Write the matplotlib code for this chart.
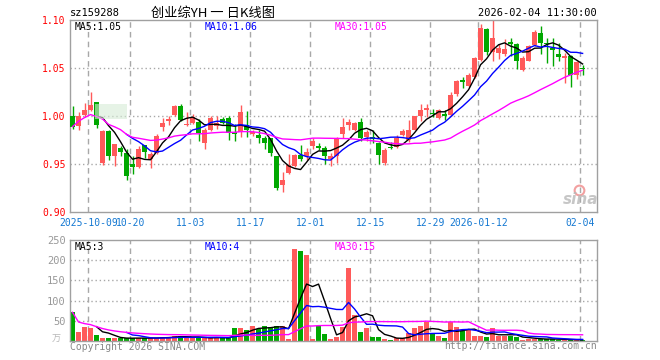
import numpy as np
import pandas as pd
import matplotlib.pyplot as plt
from matplotlib.patches import Rectangle

# daily candles, 2025-09-26 .. 2026-02-04 (86 sessions)
opens = [1.000, 0.990, 1.001, 1.006, 1.015, 0.951, 0.984, 0.958, 0.967, 0.961,
         0.950, 0.947, 0.970, 0.955, 0.961, 0.989, 0.995, 1.001, 1.010, 0.991,
         0.993, 0.994, 0.972, 0.985, 0.990, 0.997, 0.998, 0.983, 0.983, 0.991,
         0.981, 0.980, 0.977, 0.977, 0.958, 0.928, 0.941, 0.948, 0.959, 0.958,
         0.969, 0.969, 0.967, 0.955, 0.958, 0.981, 0.991, 0.985, 0.994, 0.978,
         0.978, 0.972, 0.951, 0.968, 0.968, 0.980, 0.975, 0.985, 1.000, 1.006,
         1.003, 0.998, 1.002, 1.001, 1.023, 1.037, 1.031, 1.041, 1.058, 1.091,
         1.067, 1.066, 1.065, 1.077, 1.075, 1.048, 1.057, 1.074, 1.086, 1.076,
         1.071, 1.065, 1.060, 1.062, 1.043, 1.050]
closes = [0.989, 1.000, 1.006, 1.011, 0.991, 0.984, 0.958, 0.971, 0.962, 0.937,
          0.947, 0.966, 0.962, 0.960, 0.979, 0.993, 0.997, 1.010, 0.996, 0.992,
          0.999, 0.982, 0.985, 0.998, 0.993, 0.993, 0.982, 0.981, 1.004, 0.985,
          0.983, 0.977, 0.972, 0.961, 0.925, 0.933, 0.949, 0.959, 0.955, 0.963,
          0.974, 0.967, 0.958, 0.958, 0.976, 0.989, 0.994, 0.993, 0.977, 0.983,
          0.976, 0.959, 0.965, 0.967, 0.977, 0.984, 0.985, 1.000, 1.006, 1.008,
          1.002, 1.006, 1.000, 1.022, 1.036, 1.036, 1.043, 1.060, 1.092, 1.067,
          1.081, 1.071, 1.070, 1.075, 1.057, 1.060, 1.073, 1.088, 1.076, 1.075,
          1.069, 1.061, 1.062, 1.043, 1.056, 1.049]
highs = [1.010, 1.004, 1.014, 1.025, 1.015, 0.985, 0.985, 0.971, 0.969, 0.966,
         0.958, 0.969, 0.970, 0.963, 0.981, 0.998, 1.000, 1.011, 1.013, 1.004,
         1.002, 0.997, 0.987, 1.000, 1.000, 0.999, 1.000, 0.992, 1.011, 1.005,
         0.985, 0.985, 0.979, 0.977, 0.958, 0.942, 0.960, 0.960, 0.970, 0.967,
         0.977, 0.972, 0.969, 0.961, 0.978, 0.998, 0.997, 0.994, 0.998, 0.985,
         0.985, 0.973, 0.967, 0.973, 0.980, 0.986, 0.996, 1.000, 1.013, 1.013,
         1.007, 1.007, 1.006, 1.025, 1.037, 1.041, 1.045, 1.061, 1.096, 1.092,
         1.100, 1.075, 1.080, 1.081, 1.076, 1.063, 1.074, 1.090, 1.094, 1.081,
         1.081, 1.076, 1.066, 1.064, 1.057, 1.053]
lows = [0.986, 0.985, 0.999, 1.005, 0.988, 0.949, 0.954, 0.948, 0.958, 0.933,
        0.940, 0.946, 0.956, 0.946, 0.960, 0.984, 0.991, 1.000, 0.995, 0.990,
        0.992, 0.974, 0.966, 0.984, 0.986, 0.992, 0.975, 0.974, 0.978, 0.978,
        0.979, 0.972, 0.966, 0.958, 0.923, 0.921, 0.940, 0.947, 0.953, 0.954,
        0.966, 0.965, 0.950, 0.948, 0.951, 0.977, 0.985, 0.984, 0.974, 0.974,
        0.972, 0.950, 0.949, 0.966, 0.967, 0.979, 0.973, 0.985, 0.995, 0.999,
        0.999, 0.997, 0.996, 1.000, 1.021, 1.029, 1.030, 1.040, 1.057, 1.064,
        1.057, 1.059, 1.063, 1.062, 1.049, 1.047, 1.057, 1.073, 1.065, 1.055,
        1.052, 1.057, 1.034, 1.030, 1.039, 1.043]
# volume in 万
volumes = [71, 23, 35, 33, 15, 8, 7, 7, 7, 7,
           7, 8, 7, 7, 8, 10, 10, 13, 13, 7,
           7, 10, 7, 7, 10, 7, 7, 32, 31, 27,
           37, 29, 37, 35, 37, 37, 6, 227, 222, 213,
           6, 36, 18, 6, 10, 35, 181, 65, 23, 33,
           10, 10, 6, 3, 7, 7, 21, 33, 37, 46,
           17, 12, 8, 48, 35, 25, 27, 12, 12, 10,
           31, 12, 12, 12, 10, 3, 5, 5, 5, 6,
           4, 3, 3, 2, 4, 2]

date_idx = [3, 10, 20, 30, 40, 50, 60, 68, 85]
date_labels = ["2025-10-09", "10-20", "11-03", "11-17", "12-01",
               "12-15", "12-29", "2026-01-12", "02-04"]
price_ticks = [0.90, 0.95, 1.00, 1.05, 1.10]
vol_ticks = [50, 100, 150, 200, 250]
price_ma_text = ["MA5:1.05", "MA10:1.06", "MA30:1.05"]
vol_ma_text = ["MA5:3", "MA10:4", "MA30:15"]

UP = "#ff5a5a"
DOWN = "#00a800"
MA_COLORS = ["black", "#0000ff", "#ff00ff"]
GRID = "#a8a8a8"
MONO = "DejaVu Sans Mono"
CJK = ["Noto Sans CJK SC", "DejaVu Sans Mono"]

df = pd.DataFrame({"open": opens, "close": closes, "high": highs,
                   "low": lows, "vol": volumes})
x = np.arange(len(df))
colors = np.where(df["close"] >= df["open"], UP, DOWN)

# moving averages (MA30 starts as a running mean, like the source)
for col in ["close", "vol"]:
    df[col + "_ma5"] = df[col].rolling(5).mean()
    df[col + "_ma10"] = df[col].rolling(10).mean()
    df[col + "_ma30"] = df[col].rolling(30, min_periods=1).mean()

W, H = 660, 360


def box(l, t, r, b):
    return [l / W, 1 - b / H, (r - l) / W, (b - t) / H]


fig = plt.figure(figsize=(6.6, 3.6), dpi=100)
ax = fig.add_axes(box(70, 20, 597, 212))
axv = fig.add_axes(box(70, 240, 597, 341))

grid_x = [i - 0.35 for i in date_idx]

for a in (ax, axv):
    a.set_xlim(-0.42, 87.4)
    for s in a.spines.values():
        s.set_color("#a0a0a0")
        s.set_linewidth(1)
    for gx in grid_x:
        a.axvline(gx, color=GRID, lw=1, ls=(0, (4, 3)), zorder=0)
    a.tick_params(length=0)

# -----------------------------
# price panel
# -----------------------------
ax.set_ylim(0.90, 1.10)
for yv in [0.95, 1.00, 1.05]:
    ax.axhline(yv, color=GRID, lw=1, ls=(0, (1, 2)), zorder=0)

ax.vlines(x, df["low"], df["high"], colors=colors, lw=1, zorder=2)
body = (df["close"] - df["open"]).abs()
min_h = 0.0012
bottom = np.minimum(df["open"], df["close"]) - np.clip(min_h - body, 0, None) / 2
ax.bar(x, np.maximum(body, min_h), bottom=bottom, width=0.8,
       color=colors, lw=0, zorder=3)

for name, c in zip(["_ma5", "_ma10", "_ma30"], MA_COLORS):
    ax.plot(x, df["close" + name], color=c, lw=1, zorder=4)

# faded blob over early candles
ax.add_patch(Rectangle((3.8, 0.997), 5.3, 0.016, color="#d6ecd6",
                       alpha=0.6, lw=0, zorder=5))

ax.set_yticks(price_ticks)
ax.set_yticklabels([f"{v:.2f}" for v in price_ticks], color="red",
                   family=MONO, fontsize=7)
ax.set_xticks(grid_x)
ax.set_xticklabels(date_labels, color="#1478d2", family=MONO, fontsize=7)
ax.tick_params(axis="x", pad=4)
ax.tick_params(axis="y", pad=3)

# -----------------------------
# volume panel
# -----------------------------
axv.set_ylim(0, 250)
for yv in [50, 100, 150, 200]:
    axv.axhline(yv, color=GRID, lw=1, ls=(0, (1, 2)), zorder=0)
axv.bar(x, df["vol"], width=0.8, color=colors, lw=0, zorder=2)
for name, c in zip(["_ma5", "_ma10", "_ma30"], MA_COLORS):
    axv.plot(x, df["vol" + name], color=c, lw=1, zorder=3)
axv.set_yticks(vol_ticks)
axv.set_yticklabels([str(v) for v in vol_ticks], color="#999999",
                    family=MONO, fontsize=7.5)
axv.set_xticks([])
axv.tick_params(axis="y", pad=3)

# -----------------------------
# texts
# -----------------------------
def ftext(px, py, s, **kw):
    fig.text(px / W, 1 - py / H, s, va="center", **kw)


ftext(70, 13.5, "sz159288", family=MONO, fontsize=7.5)
ftext(213, 13.5, "创业综YH 一 日K线图", family=CJK, fontsize=9.5, ha="center")
ftext(597, 12.5, "2026-02-04 11:30:00", family=MONO, fontsize=7.5, ha="right")

for px, s, c in zip([75, 205, 335], price_ma_text, MA_COLORS):
    ftext(px, 26.5, s, family=MONO, fontsize=7, color=c)
for px, s, c in zip([75, 205, 335], vol_ma_text, MA_COLORS):
    ftext(px, 246.5, s, family=MONO, fontsize=7, color=c)

ftext(56, 339, "万", family=CJK, fontsize=6.5, color="#b8b8b8", ha="center",
      style="italic")
ftext(70, 346.5, "Copyright 2026 SINA.COM", family=MONO, fontsize=7,
      color="#888888")
ftext(597, 346, "http://finance.sina.com.cn", family=MONO, fontsize=7,
      color="#888888", ha="right")

# sina watermark
ftext(581, 199, "sina", family="DejaVu Sans", fontsize=11, color="#b8b8b8",
      ha="center", style="italic", weight="bold", alpha=0.8)
fig.lines.append(plt.Line2D([579 / W], [1 - 190 / H], marker="o", ms=7,
                            mfc="none", mec="#f2a0a0", mew=1.5,
                            transform=fig.transFigure))

fig.savefig("out.png", dpi=100)
